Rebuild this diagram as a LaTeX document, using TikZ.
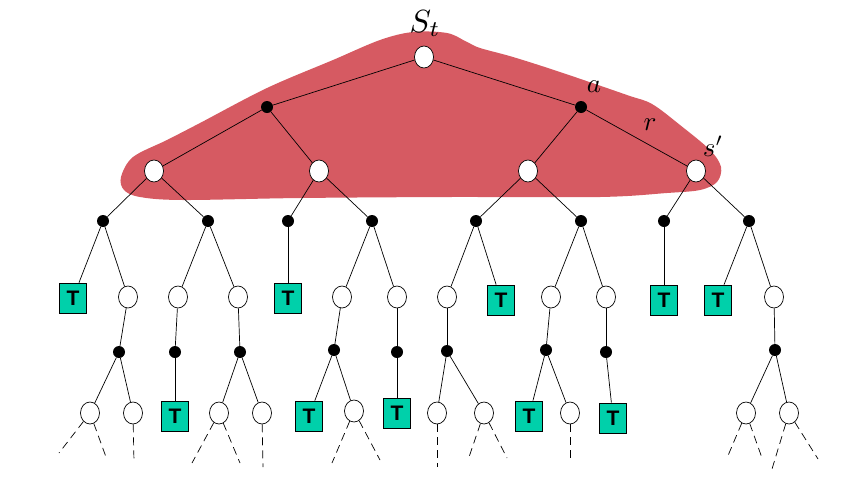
\documentclass[tikz,border=0pt]{standalone}
\usepackage{fontspec}
\newfontfamily\tfont{Liberation Sans}
\usetikzlibrary{shapes.geometric}
\definecolor{blobred}{RGB}{214,90,98}
\definecolor{tgreen}{RGB}{0,208,170}
\begin{document}
\begin{tikzpicture}[x=1pt,y=-1pt,
  open/.style={ellipse,draw,fill=white,minimum width=19pt,minimum height=22pt,inner sep=0pt,line width=0.7pt},
  chance/.style={circle,fill=black,minimum size=12pt,inner sep=0pt},
  tbox/.style={draw,fill=tgreen,minimum width=27pt,minimum height=30pt,inner sep=0pt,line width=0.7pt,
    font=\tfont\fontsize{21}{24}\selectfont\bfseries},
  edge/.style={line width=0.7pt},
  loose/.style={line width=0.7pt,dash pattern=on 8pt off 5pt},
  lbl/.style={scale=2.7,inner sep=0pt}]
\useasboundingbox (0,0) rectangle (856,493);

% shaded region around the upper part of the tree
\fill[blobred] plot[smooth cycle,tension=0.55] coordinates {
  (121,177) (133,157) (167,140) (200,123) (267,88) (333,60) (380,40) (413,32)
  (447,33) (467,42) (480,48) (513,57) (560,72) (627,95) (652,104) (680,125)
  (710,150) (721,167) (717,182) (700,190) (667,193) (600,197) (450,197)
  (300,198) (183,200) (140,197) (124,190)};

% level 0 - 2
\node[open] (root) at (424,57) {};
\node[chance] (p1) at (267,107) {};
\node[chance] (p2) at (581,107) {};
\node[open] (n1) at (154,171) {};
\node[open] (n2) at (319,171) {};
\node[open] (n3) at (528,171) {};
\node[open] (n4) at (696,171) {};

% level 3
\node[chance] (q1) at (103,221) {};
\node[chance] (q2) at (208,221) {};
\node[chance] (q3) at (288,221) {};
\node[chance] (q4) at (372,221) {};
\node[chance] (q5) at (476,221) {};
\node[chance] (q6) at (581,221) {};
\node[chance] (q7) at (664,221) {};
\node[chance] (q8) at (749,221) {};

% level 4
\node[tbox] (t1) at (73,298) {T};
\node[open] (m1) at (128,297) {};
\node[open] (m2) at (178,297) {};
\node[open] (m3) at (238,297) {};
\node[tbox] (t2) at (288,298) {T};
\node[open] (m4) at (342,297) {};
\node[open] (m5) at (397,297) {};
\node[open] (m6) at (447,297) {};
\node[tbox] (t3) at (501,300) {T};
\node[open] (m7) at (551,297) {};
\node[open] (m8) at (606,297) {};
\node[tbox] (t4) at (664,300) {T};
\node[tbox] (t5) at (718,300) {T};
\node[open] (m9) at (774,297) {};

% level 5
\node[chance] (c1) at (119,352) {};
\node[chance] (c2) at (175,352) {};
\node[chance] (c3) at (240,352) {};
\node[chance] (c4) at (334,350) {};
\node[chance] (c5) at (397,352) {};
\node[chance] (c6) at (447,351) {};
\node[chance] (c7) at (546,350) {};
\node[chance] (c8) at (606,352) {};
\node[chance] (c9) at (775,350) {};

% level 6
\node[open] (e1) at (90,413) {};
\node[open] (e2) at (133,413) {};
\node[tbox] (t6) at (175,416) {T};
\node[open] (e3) at (219,413) {};
\node[open] (e4) at (262,413) {};
\node[tbox] (t7) at (309,416) {T};
\node[open] (e5) at (354,411) {};
\node[tbox] (t8) at (397,413) {T};
\node[open] (e6) at (437,413) {};
\node[open] (e7) at (484,413) {};
\node[tbox] (t9) at (529,416) {T};
\node[open] (e8) at (570,413) {};
\node[tbox] (t10) at (613,418) {T};
\node[open] (e9) at (746,413) {};
\node[open] (e10) at (789,413) {};

% loose ends of the unexpanded branches
\coordinate (d1) at (59,453);  \coordinate (d2) at (106,457);
\coordinate (d3) at (134,462);
\coordinate (d4) at (192,463); \coordinate (d5) at (240,463);
\coordinate (d6) at (263,467);
\coordinate (d7) at (332,463); \coordinate (d8) at (380,460);
\coordinate (d9) at (437,467);
\coordinate (d10) at (468,460); \coordinate (d11) at (507,458);
\coordinate (d12) at (570,460);
\coordinate (d13) at (727,458); \coordinate (d14) at (762,458);
\coordinate (d15) at (772,469); \coordinate (d16) at (818,459);

% tree edges
\draw[edge] (root) -- (p1); \draw[edge] (root) -- (p2);
\draw[edge] (p1) -- (n1); \draw[edge] (p1) -- (n2);
\draw[edge] (p2) -- (n3); \draw[edge] (p2) -- (n4);
\draw[edge] (n1) -- (q1); \draw[edge] (n1) -- (q2);
\draw[edge] (n2) -- (q3); \draw[edge] (n2) -- (q4);
\draw[edge] (n3) -- (q5); \draw[edge] (n3) -- (q6);
\draw[edge] (n4) -- (q7); \draw[edge] (n4) -- (q8);
\draw[edge] (q1) -- (t1); \draw[edge] (q1) -- (m1);
\draw[edge] (q2) -- (m2); \draw[edge] (q2) -- (m3);
\draw[edge] (q3) -- (t2);
\draw[edge] (q4) -- (m4); \draw[edge] (q4) -- (m5);
\draw[edge] (q5) -- (m6); \draw[edge] (q5) -- (t3);
\draw[edge] (q6) -- (m7); \draw[edge] (q6) -- (m8);
\draw[edge] (q7) -- (t4);
\draw[edge] (q8) -- (t5); \draw[edge] (q8) -- (m9);
\draw[edge] (m1) -- (c1); \draw[edge] (m2) -- (c2); \draw[edge] (m3) -- (c3);
\draw[edge] (m4) -- (c4); \draw[edge] (m5) -- (c5); \draw[edge] (m6) -- (c6);
\draw[edge] (m7) -- (c7); \draw[edge] (m8) -- (c8); \draw[edge] (m9) -- (c9);
\draw[edge] (c1) -- (e1); \draw[edge] (c1) -- (e2);
\draw[edge] (c2) -- (t6);
\draw[edge] (c3) -- (e3); \draw[edge] (c3) -- (e4);
\draw[edge] (c4) -- (t7); \draw[edge] (c4) -- (e5);
\draw[edge] (c5) -- (t8);
\draw[edge] (c6) -- (e6); \draw[edge] (c6) -- (e7);
\draw[edge] (c7) -- (t9); \draw[edge] (c7) -- (e8);
\draw[edge] (c8) -- (t10);
\draw[edge] (c9) -- (e9); \draw[edge] (c9) -- (e10);

% dashed continuations
\draw[loose] (e1) -- (d1); \draw[loose] (e1) -- (d2);
\draw[loose] (e2) -- (d3);
\draw[loose] (e3) -- (d4); \draw[loose] (e3) -- (d5);
\draw[loose] (e4) -- (d6);
\draw[loose] (e5) -- (d7); \draw[loose] (e5) -- (d8);
\draw[loose] (e6) -- (d9);
\draw[loose] (e7) -- (d10); \draw[loose] (e7) -- (d11);
\draw[loose] (e8) -- (d12);
\draw[loose] (e9) -- (d13); \draw[loose] (e9) -- (d14);
\draw[loose] (e10) -- (d15); \draw[loose] (e10) -- (d16);

% labels
\node[scale=3.2,inner sep=0pt,anchor=base west] (lS) at (409,32) {$S_t$};
\node[lbl] (la) at (594,87) {$a$};
\node[lbl] (lr) at (650,125) {$r$};
\node[lbl] (ls) at (713,146) {$s'$};
\end{tikzpicture}
\end{document}
